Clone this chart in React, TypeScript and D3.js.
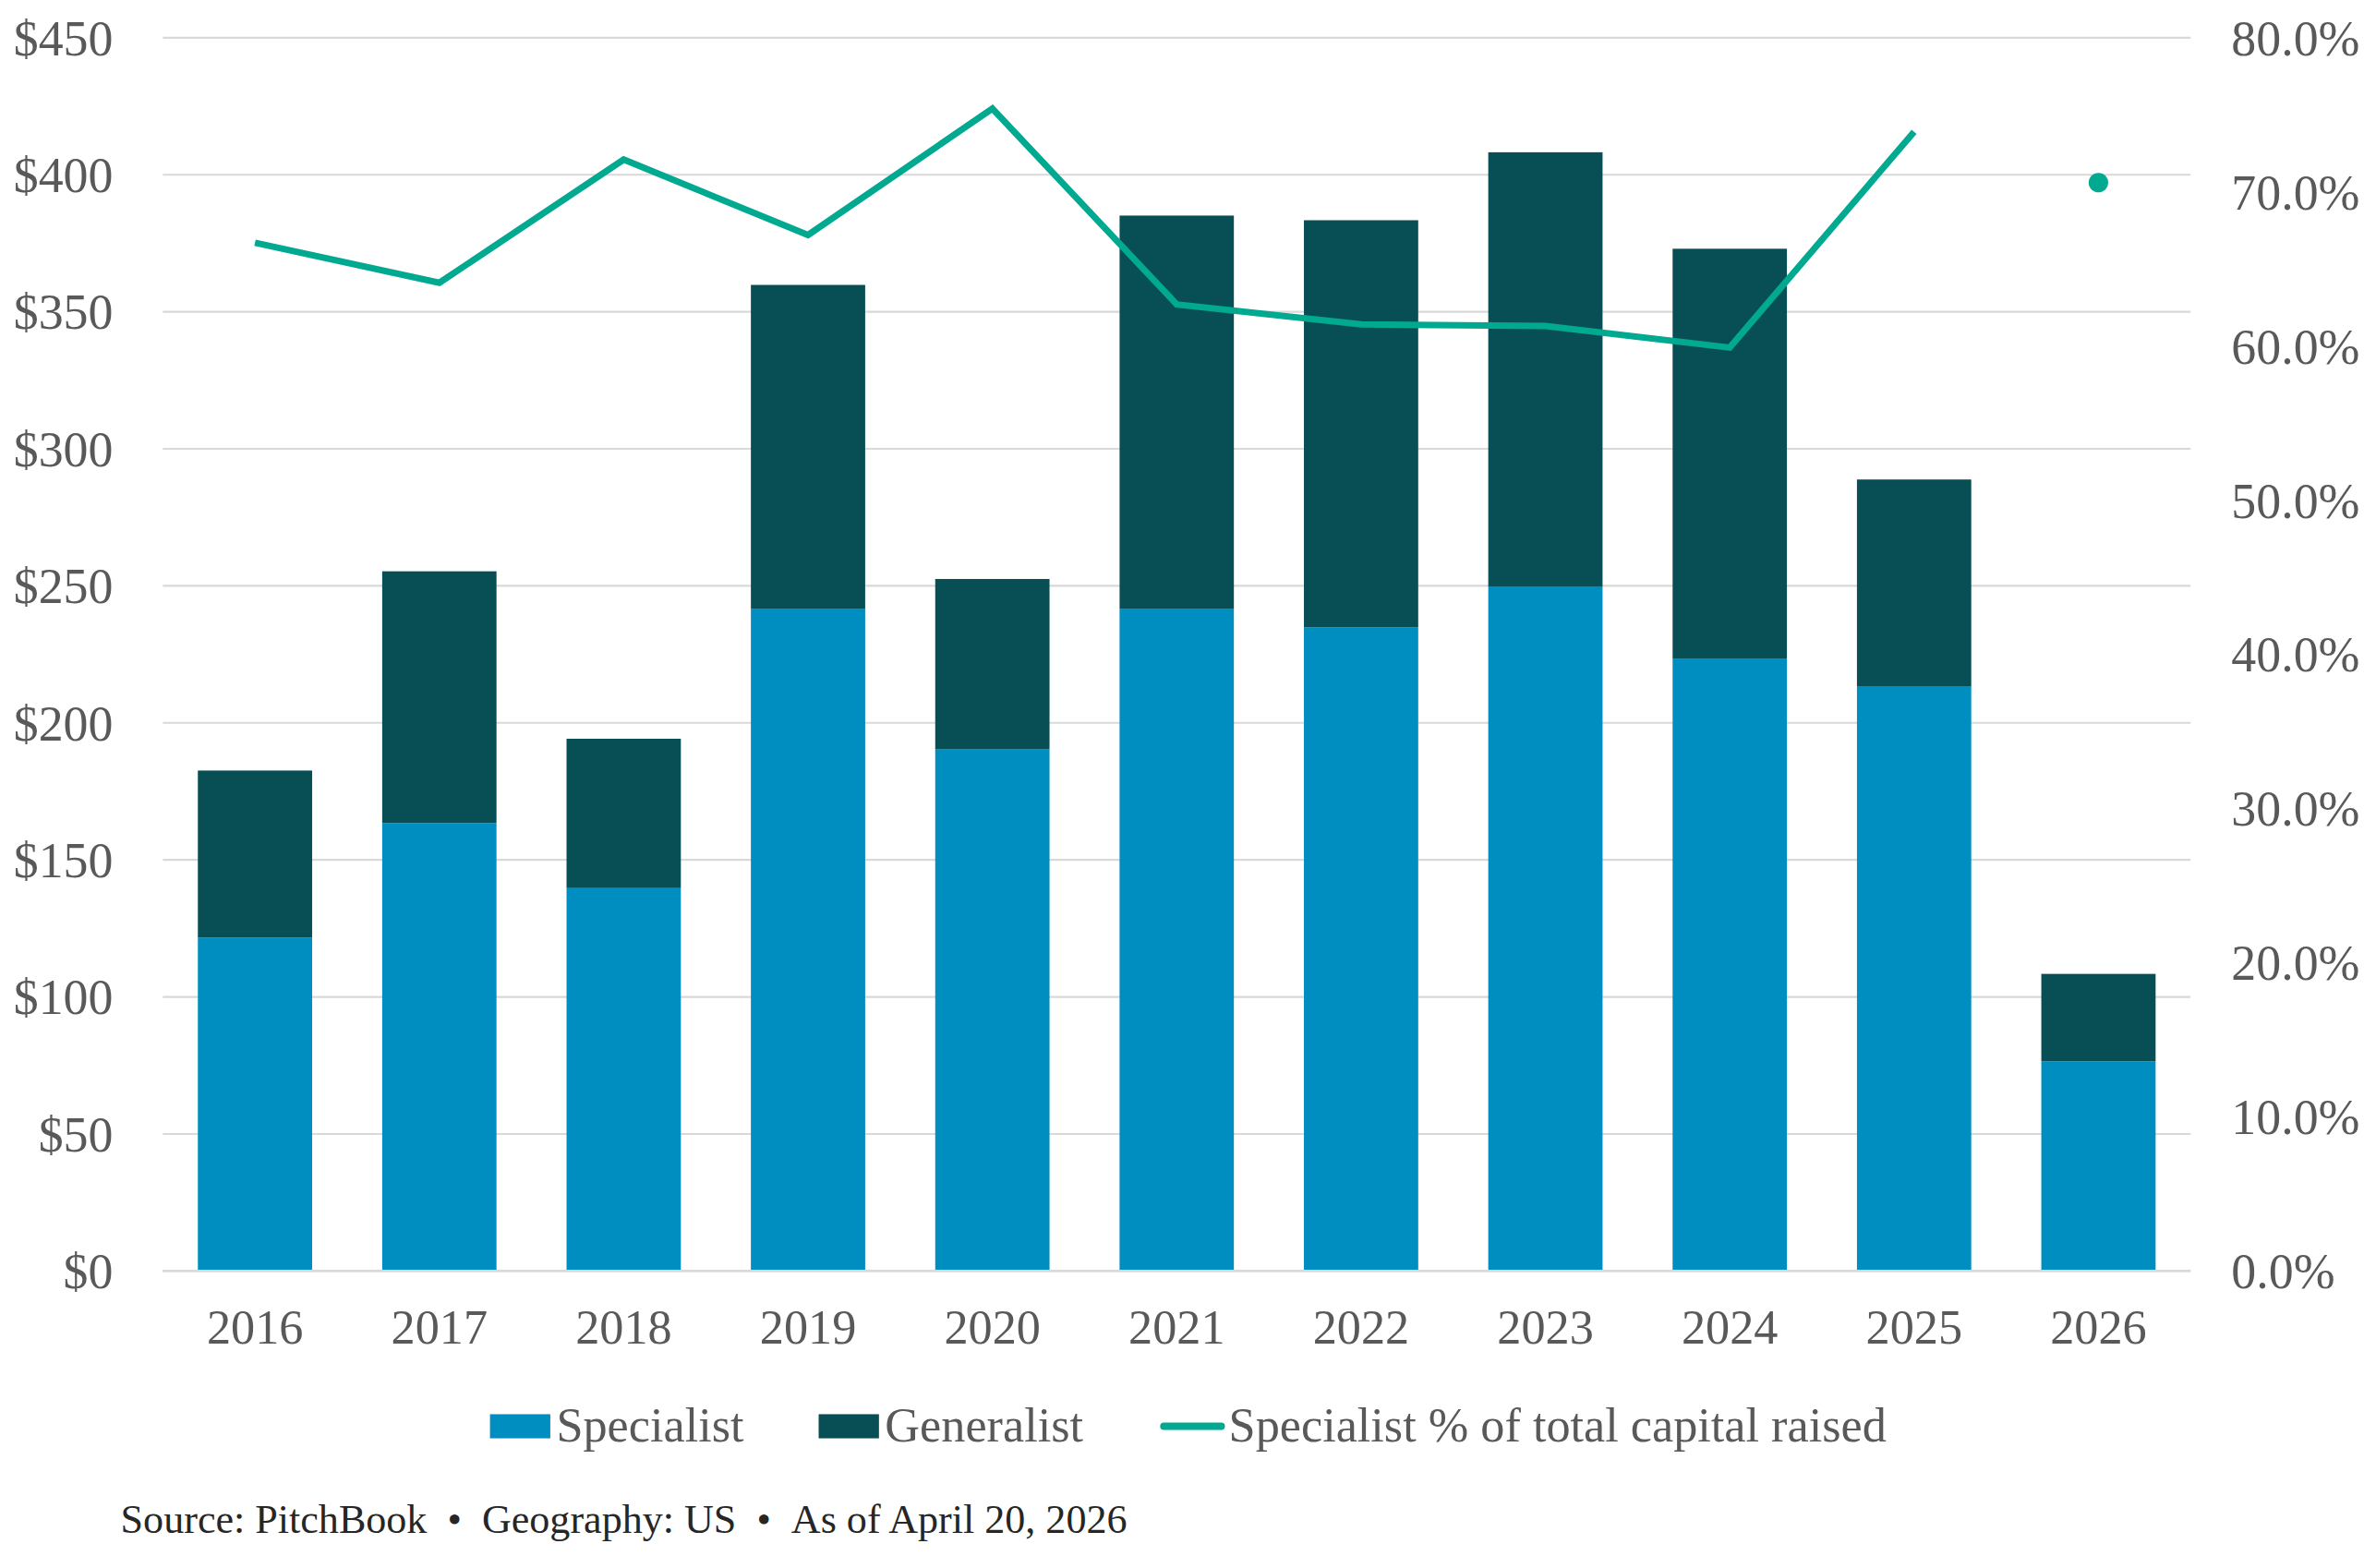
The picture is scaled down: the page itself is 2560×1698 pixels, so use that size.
import { useEffect, useRef } from 'react'
import * as d3 from 'd3'

const years = ['2016', '2017', '2018', '2019', '2020', '2021', '2022', '2023', '2024', '2025', '2026']
const specialist = [121.6, 163.4, 139.7, 241.5, 190.3, 241.5, 234.9, 249.8, 223.3, 213.4, 76.5]
const generalist = [61.0, 91.9, 54.5, 118.3, 62.2, 143.6, 148.5, 158.4, 149.7, 75.4, 31.9]
const specialistPct = [0.667, 0.641, 0.721, 0.672, 0.754, 0.627, 0.614, 0.613, 0.599, 0.739, 0.706]
const leftTicks = [0, 50, 100, 150, 200, 250, 300, 350, 400, 450]
const rightTicks = [0, 0.1, 0.2, 0.3, 0.4, 0.5, 0.6, 0.7, 0.8]

const W = 1568, H = 1040
const FONT = '"Liberation Serif", "DejaVu Serif", serif'
const C_SPEC = '#008DBF', C_GEN = '#084F55', C_LINE = '#00A98F', C_TEXT = '#595959', C_GRID = '#D9D9D9'

export default function App() {
  const ref = useRef<SVGSVGElement | null>(null)

  useEffect(() => {
    if (!ref.current) return
    const svg = d3.select(ref.current)
    svg.selectAll('*').remove()
    const margin = { top: 25, right: 115, bottom: 197, left: 108 }
    const x = d3.scaleBand().domain(years).range([margin.left, W - margin.right]).paddingInner(0.38).paddingOuter(0.19)
    const y = d3.scaleLinear().domain([0, 450]).range([H - margin.bottom, margin.top])
    const y2 = d3.scaleLinear().domain([0, 0.8]).range([H - margin.bottom, margin.top])

    // gridlines
    svg.append('g').selectAll('line').data(leftTicks).enter().append('line')
      .attr('x1', margin.left).attr('x2', W - margin.right)
      .attr('y1', d => y(d)).attr('y2', d => y(d))
      .attr('stroke', C_GRID).attr('stroke-width', 1.3)

    // stacked bars
    const rows = years.map((yr, i) => ({ year: yr, Specialist: specialist[i], Generalist: generalist[i] }))
    const stack = d3.stack<any>().keys(['Specialist', 'Generalist'])(rows)
    const colors: Record<string, string> = { Specialist: C_SPEC, Generalist: C_GEN }
    svg.append('g').selectAll('g').data(stack).enter().append('g')
      .attr('fill', d => colors[d.key])
      .selectAll('rect').data(d => d).enter().append('rect')
      .attr('x', d => x(d.data.year)!)
      .attr('y', d => y(d[1]))
      .attr('width', x.bandwidth())
      .attr('height', d => y(d[0]) - y(d[1]))

    // baseline
    svg.append('line').attr('x1', margin.left).attr('x2', W - margin.right)
      .attr('y1', y(0)).attr('y2', y(0)).attr('stroke', C_GRID).attr('stroke-width', 1.5)

    // line (2016-2025), 2026 shown as a lone marker
    const cx = (yr: string) => x(yr)! + x.bandwidth() / 2
    const lineData = years.slice(0, 10).map((yr, i) => ({ yr, v: specialistPct[i] }))
    svg.append('path').datum(lineData)
      .attr('d', d3.line<any>().x(d => cx(d.yr)).y(d => y2(d.v)))
      .attr('fill', 'none').attr('stroke', C_LINE).attr('stroke-width', 4.3).attr('stroke-linejoin', 'miter')
    svg.append('circle').attr('cx', cx(years[10])).attr('cy', y2(specialistPct[10])).attr('r', 6.5).attr('fill', C_LINE)

    // left axis labels
    svg.append('g').selectAll('text').data(leftTicks).enter().append('text')
      .attr('x', 75).attr('y', d => y(d)).attr('dy', '0.35em')
      .attr('text-anchor', 'end').attr('font-size', 33).attr('fill', C_TEXT).attr('font-family', FONT)
      .text(d => `$${d}`)

    // right axis labels
    svg.append('g').selectAll('text').data(rightTicks).enter().append('text')
      .attr('x', 1480).attr('y', d => y2(d)).attr('dy', '0.35em')
      .attr('text-anchor', 'start').attr('font-size', 33).attr('fill', C_TEXT).attr('font-family', FONT)
      .text(d => d3.format('.1%')(d))

    // x labels
    svg.append('g').selectAll('text').data(years).enter().append('text')
      .attr('x', d => cx(d)).attr('y', 891)
      .attr('text-anchor', 'middle').attr('font-size', 32).attr('fill', C_TEXT).attr('font-family', FONT)
      .text(d => d)

    // legend
    const lg = svg.append('g').attr('font-family', FONT).attr('font-size', 32).attr('fill', C_TEXT)
    lg.append('rect').attr('x', 325).attr('y', 938).attr('width', 40).attr('height', 16).attr('fill', C_SPEC)
    lg.append('text').attr('x', 369).attr('y', 956).text('Specialist')
    lg.append('rect').attr('x', 543).attr('y', 938).attr('width', 40).attr('height', 16).attr('fill', C_GEN)
    lg.append('text').attr('x', 587).attr('y', 956).text('Generalist')
    lg.append('line').attr('x1', 772).attr('x2', 810).attr('y1', 946).attr('y2', 946)
      .attr('stroke', C_LINE).attr('stroke-width', 5).attr('stroke-linecap', 'round')
    lg.append('text').attr('x', 815).attr('y', 956).text('Specialist % of total capital raised')

    // source
    svg.append('text').attr('x', 80).attr('y', 1017).attr('font-family', FONT).attr('font-size', 27)
      .attr('fill', '#262626')
      .text('Source: PitchBook\u00A0\u00A0•\u00A0\u00A0Geography: US\u00A0\u00A0•\u00A0\u00A0As of April 20, 2026')
  }, [])

  return (
    <svg ref={ref} viewBox={`0 0 ${W} ${H}`} width={2560} height={1698}
      style={{ position: 'absolute', left: 0, top: 0, background: '#fff' }} />
  )
}
